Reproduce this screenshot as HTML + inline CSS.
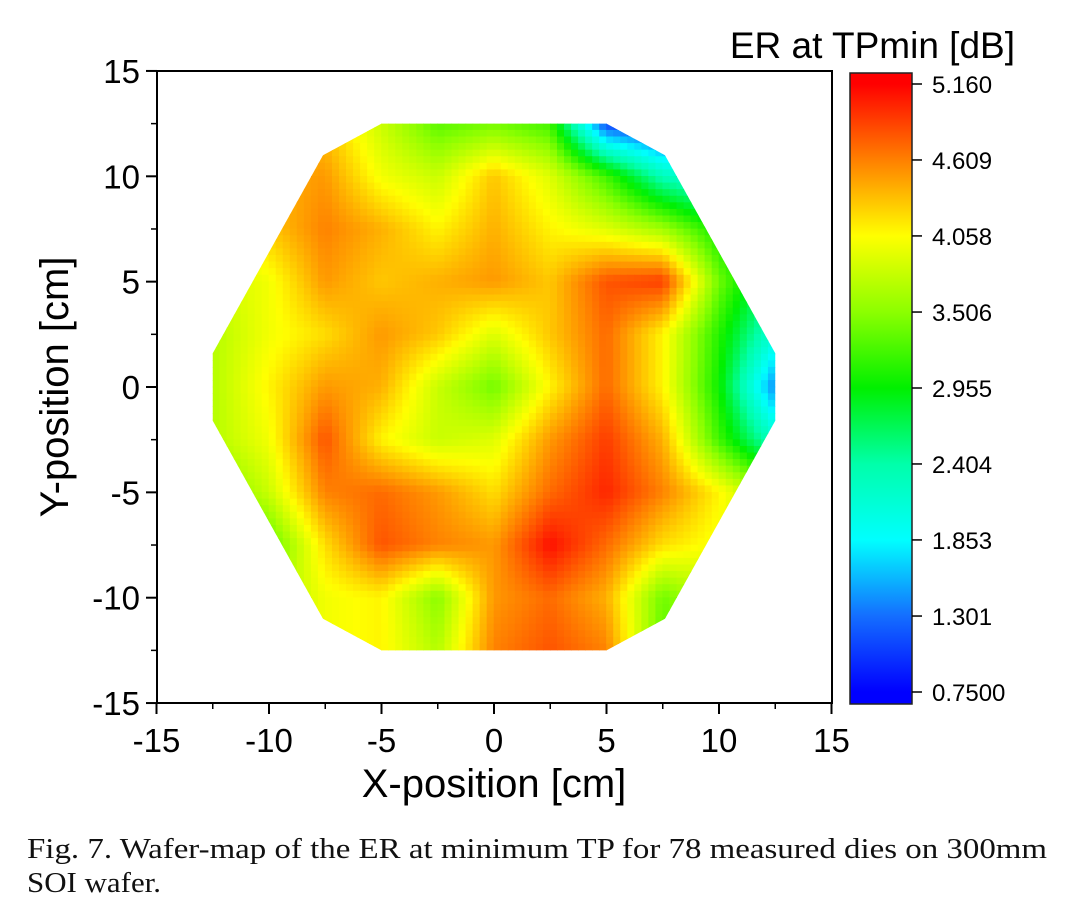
<!DOCTYPE html>
<html><head><meta charset="utf-8">
<style>
body{margin:0;background:#fff;width:1077px;height:899px;overflow:hidden}
svg{display:block}
text{font-family:"Liberation Sans",sans-serif}
.cap{font-family:"Liberation Serif",serif;font-size:28px;fill:#111}
</style></head>
<body>
<svg id="chart" width="1077" height="899">
<defs>
<clipPath id="wafer-clip"><polygon id="clipPoly"/></clipPath>
<linearGradient id="cbar-grad" x1="0" y1="1" x2="0" y2="0"></linearGradient>
</defs>
<g id="heat" clip-path="url(#wafer-clip)"></g>
<rect x="157" y="71" width="675" height="632" fill="none" stroke="#000" stroke-width="2"/>
<g id="axes"></g>
<text x="1015" y="58" font-size="37" text-anchor="end">ER at TPmin [dB]</text>
<rect x="850" y="73" width="62" height="631" fill="url(#cbar-grad)" stroke="#222" stroke-width="1.5"/>
<g id="cbar-ticks"></g>
<text x="494" y="797" font-size="40" text-anchor="middle">X-position [cm]</text>
<text transform="translate(68,387) rotate(-90)" font-size="40" text-anchor="middle">Y-position [cm]</text>
<text class="cap" x="27" y="858" textLength="1020" lengthAdjust="spacingAndGlyphs">Fig. 7.  Wafer-map of the ER at minimum TP for 78 measured dies on 300mm</text>
<text class="cap" x="27" y="892" textLength="134" lengthAdjust="spacingAndGlyphs">SOI wafer.</text>
</svg>
<script>
const gridX=[-12.5,-10,-7.5,-5,-2.5,0,2.5,5,7.5,10,12.5];
const gridY=[12.5,10,7.5,5,2.5,0,-2.5,-5,-7.5,-10,-12.5];
const erValues=[
[3.8,4.2,4.3,3.8,3.3,3.4,3.2,1.1,0.9,0.9,0.9],
[4.2,4.4,4.5,4.0,3.8,4.3,3.9,3.2,2.3,2.0,1.8],
[4.0,4.3,4.6,4.4,4.1,4.4,4.1,3.9,3.6,3.0,2.6],
[3.8,4.0,4.5,4.3,4.4,4.5,4.3,4.8,4.9,3.4,2.5],
[3.7,4.0,4.2,4.5,4.3,3.9,4.3,4.7,4.1,3.1,2.1],
[3.7,4.1,4.5,4.4,3.8,3.4,4.1,4.7,4.1,3.0,1.4],
[3.7,4.0,4.8,4.1,3.8,3.9,4.5,4.9,4.4,3.2,2.2],
[3.4,3.8,4.6,4.7,4.5,4.2,4.7,5.0,4.6,4.1,3.5],
[3.1,3.3,4.2,4.8,4.6,4.5,5.1,4.7,4.2,4.0,3.8],
[3.4,3.6,4.0,4.1,3.5,4.5,4.7,4.4,3.4,3.8,3.8],
[3.6,3.8,4.0,4.1,3.7,4.6,4.8,4.6,3.3,3.5,3.5]];
const xTicks=[-15,-10,-5,0,5,10,15];
const yTicks=[15,10,5,0,-5,-10,-15];
const cbarTicks=[5.160,4.609,4.058,3.506,2.955,2.404,1.853,1.301,0.75];
const cbarLabels=["5.160","4.609","4.058","3.506","2.955","2.404","1.853","1.301","0.7500"];
const waferX=[-5,5,7.6,12.5,12.5,7.6,5,-5,-7.6,-12.5,-12.5,-7.6];
const waferY=[12.5,12.5,11,1.6,-1.6,-11,-12.5,-12.5,-11,-1.6,1.6,11];

const NS="http://www.w3.org/2000/svg";
const sx=v=>494+v*22.5, sy=v=>387-v*21.07;
const cmin=0.75,cmax=5.16, cy=v=>692-(v-cmin)/(cmax-cmin)*608;
const stops=[[0,[0,0,255]],[0.125,[20,110,255]],[0.25,[0,255,255]],[0.375,[0,255,170]],[0.5,[0,240,0]],[0.625,[140,255,0]],[0.75,[255,255,0]],[0.875,[255,128,0]],[1,[255,0,0]]];
function col(v){let t=Math.max(0,Math.min(1,(v-cmin)/(cmax-cmin)));
 for(let i=1;i<stops.length;i++){if(t<=stops[i][0]){const a=stops[i-1],b=stops[i],f=(t-a[0])/(b[0]-a[0]);
 return `rgb(${a[1].map((c,k)=>Math.round(c+(b[1][k]-c)*f)).join(',')})`;}}return 'rgb(255,0,0)';}
function el(tag,attrs,parent){const e=document.createElementNS(NS,tag);for(const k in attrs)e.setAttribute(k,attrs[k]);parent.appendChild(e);return e;}

document.getElementById('clipPoly').setAttribute('points',waferX.map((x,i)=>sx(x)+','+sy(waferY[i])).join(' '));
const heat=document.getElementById('heat');
const SUB=8;
for(let r=0;r<gridY.length-1;r++)for(let c=0;c<gridX.length-1;c++){
 const v00=erValues[r][c],v01=erValues[r][c+1],v10=erValues[r+1][c],v11=erValues[r+1][c+1];
 const x0=sx(gridX[c]),x1=sx(gridX[c+1]),y0=sy(gridY[r]),y1=sy(gridY[r+1]);
 const w=(x1-x0)/SUB,h=(y1-y0)/SUB;
 for(let i=0;i<SUB;i++)for(let j=0;j<SUB;j++){
  const u=(j+0.5)/SUB,t=(i+0.5)/SUB;
  const v=(v00*(1-u)+v01*u)*(1-t)+(v10*(1-u)+v11*u)*t;
  const rc=el('rect',{x:x0+j*w-0.3,y:y0+i*h-0.3,width:w+0.6,height:h+0.6,fill:col(v)},heat);
  
  
 }}
const axes=document.getElementById('axes');
xTicks.forEach(v=>{const l=el('line',{x1:sx(v),x2:sx(v),y1:703,y2:714,stroke:'#000','stroke-width':2},axes);
 
 const t=el('text',{x:sx(v),y:752,'font-size':33,'text-anchor':'middle'},axes);t.textContent=v;
 });
for(let v=-12.5;v<=12.5;v+=5){const l=el('line',{x1:sx(v),x2:sx(v),y1:703,y2:709,stroke:'#000','stroke-width':1.5},axes);
 }
yTicks.forEach(v=>{const l=el('line',{x1:146,x2:157,y1:sy(v),y2:sy(v),stroke:'#000','stroke-width':2},axes);
 
 const t=el('text',{x:140,y:sy(v)+12,'font-size':33,'text-anchor':'end'},axes);t.textContent=v;
 });
for(let v=-12.5;v<=12.5;v+=5){const l=el('line',{x1:151,x2:157,y1:sy(v),y2:sy(v),stroke:'#000','stroke-width':1.5},axes);
 }
const grad=document.getElementById('cbar-grad');
for(let k=0;k<=40;k++){const v=cmin+(cmax-cmin)*k/40;const off=(704-cy(v))/631;
 el('stop',{offset:off,'stop-color':col(v)},grad);}
const ct=document.getElementById('cbar-ticks');
cbarTicks.forEach((v,i)=>{const l=el('line',{x1:912,x2:922,y1:cy(v),y2:cy(v),stroke:'#000','stroke-width':1.5},ct);
 
 const t=el('text',{x:932,y:cy(v)+9,'font-size':24},ct);t.textContent=cbarLabels[i];
 });
</script>
</body></html>
